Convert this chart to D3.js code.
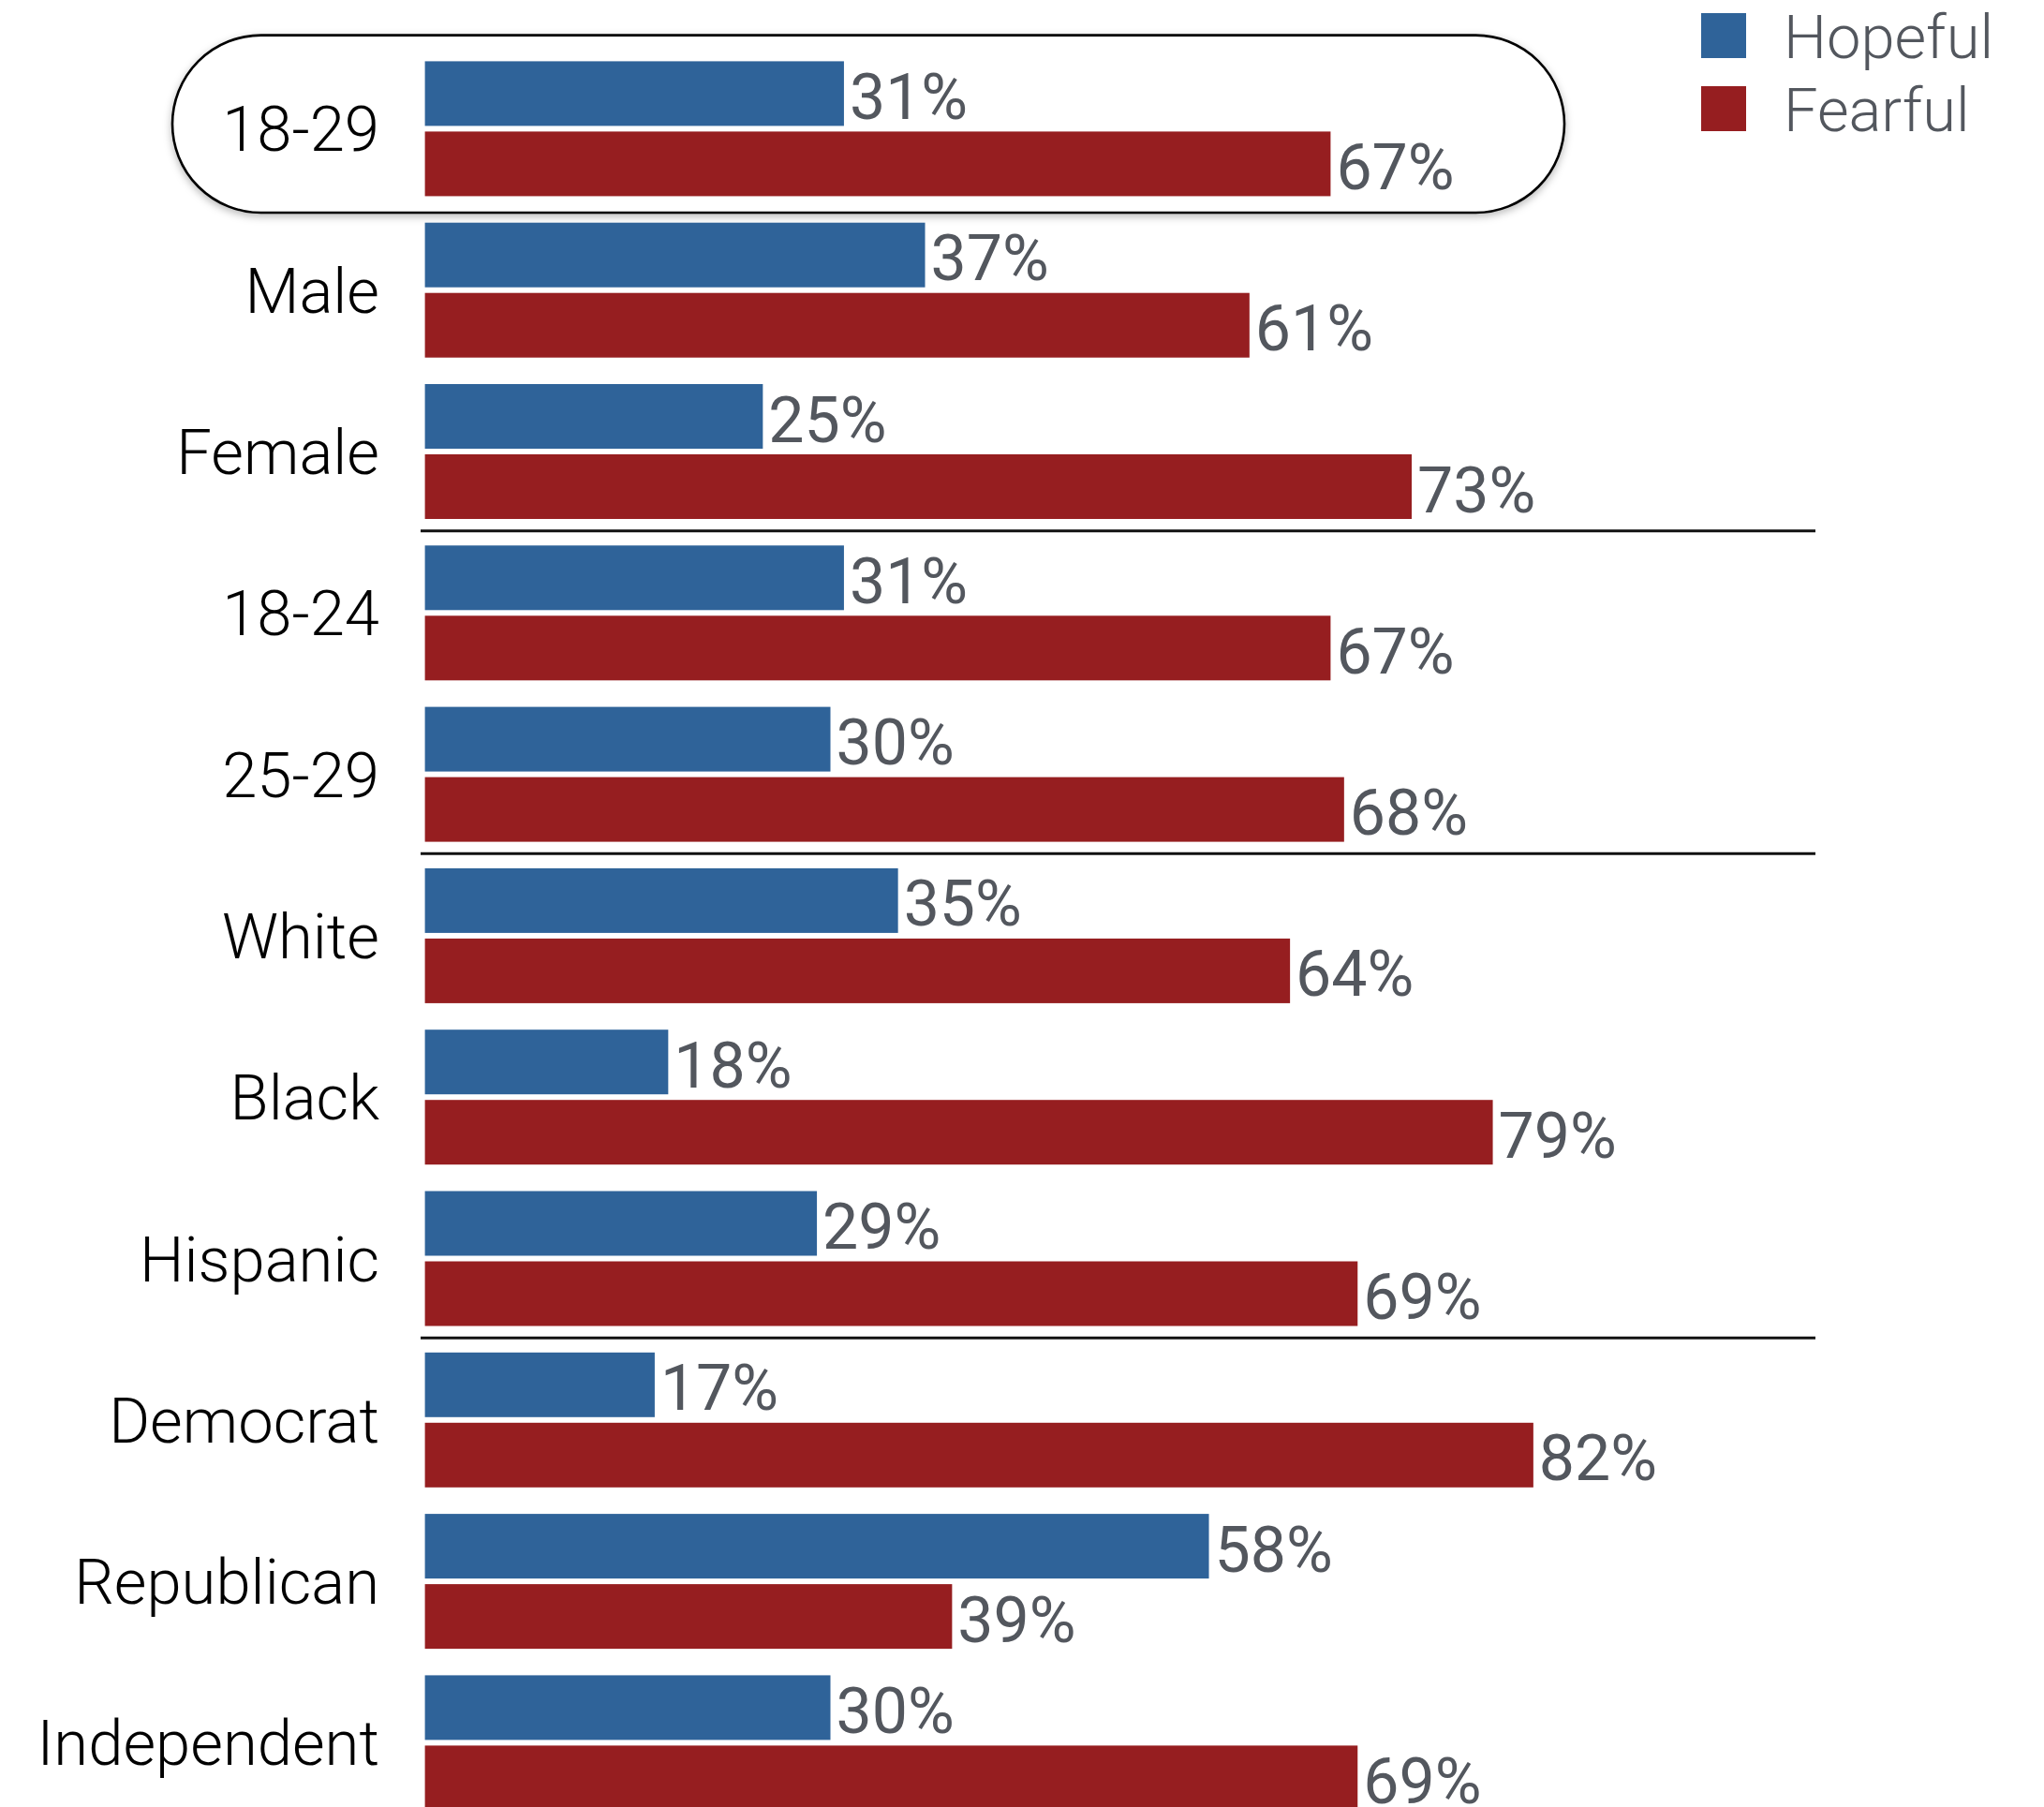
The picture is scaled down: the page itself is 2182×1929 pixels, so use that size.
<!DOCTYPE html>
<html>
<head>
<meta charset="utf-8">
<script src="https://cdn.jsdelivr.net/npm/d3@7"></script>
<style>
  html, body { margin: 0; padding: 0; background: #fff; }
  svg { display: block; }
  text { font-family: "Roboto", "Liberation Sans", sans-serif; font-weight: 300; }
</style>
</head>
<body>
<svg id="chart" width="2182" height="1929"></svg>
<script>
const categories = ["18-29","Male","Female","18-24","25-29","White","Black","Hispanic","Democrat","Republican","Independent"];
const series = ["Hopeful","Fearful"];
const hopeful = [31,37,25,31,30,35,18,29,17,58,30];
const fearful = [67,61,73,67,68,64,79,69,82,39,69];
const separatorsAfter = ["Female","25-29","Hispanic"];
const highlighted = "18-29";
const colors = ["#2f6399","#961e20"];

const W = 2182, H = 1929;
const svg = d3.select("#chart");

const x0 = 453.6;
const x = d3.scaleLinear().domain([0,100]).range([x0, x0 + 1443]);

const step = 172.3, pI = 0.1642, pO = pI / 2;
const yStart = 65.4 - pO * step;
const y = d3.scaleBand().domain(categories)
  .range([yStart, yStart + categories.length * step])
  .paddingInner(pI).paddingOuter(pO);
const ySub = d3.scaleBand().domain(series).range([0, y.bandwidth()]).paddingInner(0.08);

const rows = categories.map((c,i) => ({cat: c, values: [hopeful[i], fearful[i]]}));

// drop shadow filter
const defs = svg.append("defs");
const f = defs.append("filter").attr("id","shadow").attr("x","-10%").attr("y","-30%").attr("width","120%").attr("height","160%");
f.append("feDropShadow").attr("dx",0).attr("dy",3).attr("stdDeviation",4).attr("flood-color","#000").attr("flood-opacity",0.28);

// highlight pill
const hy0 = y(highlighted) - 27.8, hy1 = y(highlighted) + y.bandwidth() + 17.6;
const hh = hy1 - hy0;
svg.append("rect")
  .attr("x", 184).attr("y", hy0)
  .attr("width", 1670 - 184).attr("height", hh)
  .attr("rx", hh/2).attr("ry", hh/2)
  .attr("fill", "#fff").attr("stroke", "#000").attr("stroke-width", 2.6)
  .attr("filter", "url(#shadow)");

// separators
separatorsAfter.forEach(c => {
  const i = categories.indexOf(c);
  const next = categories[i+1];
  const ly = y(next) - (y.step() - y.bandwidth()) / 2 - 1.5;
  svg.append("line")
    .attr("x1", 449).attr("x2", 1938)
    .attr("y1", ly).attr("y2", ly)
    .attr("stroke", "#111").attr("stroke-width", 3);
});

const g = svg.append("g");
const groups = g.selectAll("g.row").data(rows).join("g")
  .attr("class","row")
  .attr("transform", d => `translate(0,${y(d.cat)})`);

groups.selectAll("rect").data(d => d.values.map((v,j) => ({v, s: series[j], j}))).join("rect")
  .attr("x", x(0))
  .attr("y", d => ySub(d.s))
  .attr("width", d => x(d.v) - x(0))
  .attr("height", ySub.bandwidth())
  .attr("fill", d => colors[d.j]);

groups.selectAll("text.val").data(d => d.values.map((v,j) => ({v, s: series[j], j}))).join("text")
  .attr("class","val")
  .attr("x", d => x(d.v) + 6)
  .attr("y", d => ySub(d.s) + ySub.bandwidth()/2 + 3 + 24)
  .attr("font-size", 68)
  .style("font-weight", 400)
  .attr("fill", "#53575e")
  .text(d => d.v + "%");

groups.append("text")
  .attr("x", 405)
  .attr("y", y.bandwidth()/2 + 24)
  .attr("text-anchor", "end")
  .attr("font-size", 67)
  .attr("fill", "#000")
  .text(d => d.cat);

// legend
const leg = svg.append("g");
series.forEach((s,i) => {
  leg.append("rect").attr("x", 1816).attr("y", 14 + i*78).attr("width", 48).attr("height", 48).attr("fill", colors[i]);
  leg.append("text").attr("x", 1904).attr("y", 62 + i*78).attr("font-size", 65).attr("fill", "#53575e").text(s);
});
</script>
</body>
</html>
